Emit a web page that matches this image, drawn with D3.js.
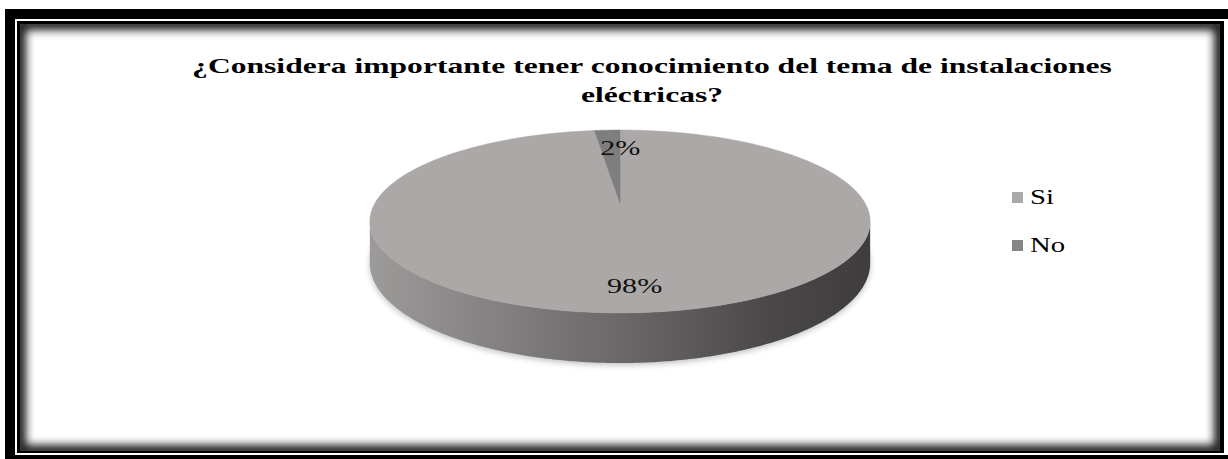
<!DOCTYPE html>
<html>
<head>
<meta charset="utf-8">
<script src="https://cdn.jsdelivr.net/npm/d3@7"></script>
<style>
  html, body { margin: 0; padding: 0; background: #ffffff; }
  svg { display: block; }
</style>
</head>
<body>
<svg id="chart" width="1228" height="459"></svg>
<script>
// Survey answers
const categories = ["Si", "No"];
const values = [98, 2];
const labels = ["98%", "2%"];
const sliceColors = ["#aba8a7", "#7f7e7e"];
const legendColors = ["#aba8a8", "#868484"];
const titleLines = [
  "¿Considera importante tener conocimiento del tema de instalaciones",
  "eléctricas?"
];

const W = 1228, H = 459;
const svg = d3.select("#chart");
const defs = svg.append("defs");

// ---- Framed background: thick black frame, white gap, thin black line, inset shade
svg.append("rect").attr("x", 5).attr("y", 9).attr("width", 1300).attr("height", 500).attr("fill", "#000");
svg.append("rect").attr("x", 15).attr("y", 19).attr("width", 1300).attr("height", 436).attr("fill", "#fff");
svg.append("rect").attr("x", 17).attr("y", 21).attr("width", 1207).attr("height", 432).attr("fill", "#000");

const inner = { x: 20, y: 24, w: 1200, h: 427 };
defs.append("clipPath").attr("id", "innerClip")
  .append("rect").attr("x", inner.x).attr("y", inner.y).attr("width", inner.w).attr("height", inner.h);
const insetBlur = defs.append("filter").attr("id", "insetBlur")
  .attr("x", "-5%").attr("y", "-5%").attr("width", "110%").attr("height", "110%");
insetBlur.append("feGaussianBlur").attr("stdDeviation", 4.5);

svg.append("rect").attr("x", inner.x).attr("y", inner.y).attr("width", inner.w).attr("height", inner.h).attr("fill", "#fff");
svg.append("g").attr("clip-path", "url(#innerClip)")
  .append("rect")
  .attr("x", inner.x).attr("y", inner.y).attr("width", inner.w).attr("height", inner.h)
  .attr("fill", "none").attr("stroke", "#1a1a1a").attr("stroke-width", 12)
  .attr("filter", "url(#insetBlur)");

// ---- Title (text is drawn wide, like the stretched source layout)
const titleG = svg.append("g");
const titleCenter = 652;
const titleBase = [73, 102];
const tNodes = titleLines.map((line, i) =>
  titleG.append("text")
    .attr("text-anchor", "middle")
    .attr("font-family", "'Liberation Serif', 'Times New Roman', serif")
    .attr("font-weight", "bold")
    .attr("font-size", 22)
    .attr("fill", "#000")
    .text(line)
);
const natural = tNodes[0].node().getComputedTextLength();
const sx = 920 / natural;
tNodes.forEach((t, i) => t.attr("transform", `translate(${titleCenter},${titleBase[i]}) scale(${sx},1)`));

// ---- 3D pie with perspective (homography from unit disk to screen)
const cx = 620, S = 245, A = 46.7, B = 203, K = -0.202, DEPTH = 40;
function project(angle, r, lower) {
  const u = r * Math.sin(angle), v = -r * Math.cos(angle);
  const den = 1 + K * v;
  return [cx + S * u / den, (A * v + B + (lower ? DEPTH : 0)) / den];
}
function arcPoints(a0, a1, r, lower) {
  const n = Math.max(4, Math.ceil(Math.abs(a1 - a0) / 0.01));
  return d3.range(n + 1).map(i => project(a0 + (a1 - a0) * i / n, r, lower));
}

const pie = d3.pie().sort(null).value(d => d)(values);
const line = d3.line();

// shadow under the pie
const shadowF = defs.append("filter").attr("id", "pieShadow")
  .attr("x", "-10%").attr("y", "-20%").attr("width", "120%").attr("height", "140%");
shadowF.append("feGaussianBlur").attr("stdDeviation", 3);
svg.append("path")
  .attr("d", line(arcPoints(0, 2 * Math.PI, 1.0, true).map(p => [p[0], p[1] + 2])) + "Z")
  .attr("fill", "#000").attr("opacity", 0.25).attr("filter", "url(#pieShadow)");

// side wall: visible front half between the two silhouette extremes
const aRight = Math.acos(K), aLeft = 2 * Math.PI - aRight;
const sideGrad = defs.append("linearGradient").attr("id", "sideGrad")
  .attr("gradientUnits", "userSpaceOnUse")
  .attr("x1", cx - 250).attr("y1", 0).attr("x2", cx + 250).attr("y2", 0);
sideGrad.append("stop").attr("offset", "0%").attr("stop-color", "#9d9a9a");
sideGrad.append("stop").attr("offset", "50%").attr("stop-color", "#6a6868");
sideGrad.append("stop").attr("offset", "80%").attr("stop-color", "#4a4848");
sideGrad.append("stop").attr("offset", "100%").attr("stop-color", "#3e3c3d");

const sideTop = arcPoints(aRight, aLeft, 1, false);
const sideBottom = arcPoints(aLeft, aRight, 1, true);
svg.append("path")
  .attr("d", line(sideTop.concat(sideBottom)) + "Z")
  .attr("fill", "url(#sideGrad)");

// top faces
const topG = svg.append("g");
pie.forEach((d, i) => {
  const pts = [project(0, 0, false)].concat(arcPoints(d.startAngle, d.endAngle, 1, false));
  topG.append("path")
    .attr("d", line(pts) + "Z")
    .attr("fill", sliceColors[i])
    .attr("stroke", sliceColors[i]).attr("stroke-width", 0.5);
});

// data labels, placed along each slice's mid-angle
const labelRadius = [0.8, 0.72];
pie.forEach((d, i) => {
  const mid = (d.startAngle + d.endAngle) / 2;
  const p = project(mid, labelRadius[i], false);
  svg.append("text")
    .attr("transform", `translate(${p[0] + (i === 1 ? 10 : 0)},${p[1]}) scale(${sx},1)`)
    .attr("text-anchor", "middle")
    .attr("dominant-baseline", "central")
    .attr("font-family", "'Liberation Serif', 'Times New Roman', serif")
    .attr("font-size", 21)
    .attr("fill", "#111")
    .text(labels[i]);
});

// ---- Legend
const legendY = d3.scalePoint().domain(categories).range([198, 246]);
const legend = svg.append("g");
categories.forEach((c, i) => {
  const y = legendY(c);
  legend.append("rect")
    .attr("x", 1012).attr("y", y - 6).attr("width", 11).attr("height", 11)
    .attr("fill", legendColors[i]);
  legend.append("text")
    .attr("transform", `translate(1030,${y + 6}) scale(${sx},1)`)
    .attr("font-family", "'Liberation Serif', 'Times New Roman', serif")
    .attr("font-size", 20)
    .attr("fill", "#000")
    .text(c);
});
</script>
</body>
</html>
